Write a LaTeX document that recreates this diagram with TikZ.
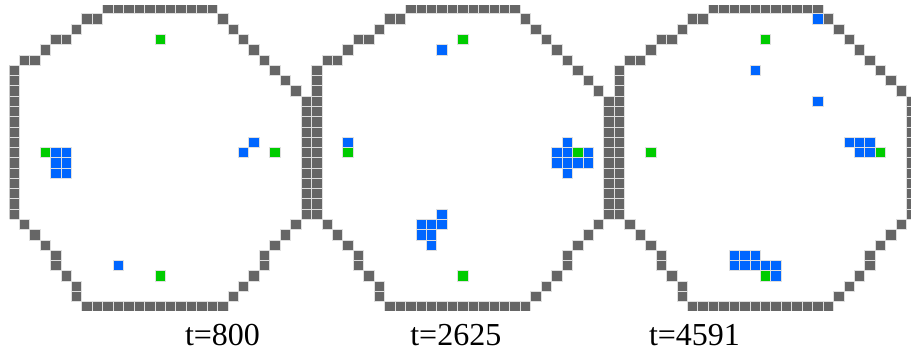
\documentclass[tikz,border=0pt]{standalone}
\usepackage{fontspec}
\setmainfont{Liberation Serif}
\definecolor{wallgray}{RGB}{102,102,102}
\definecolor{dropblue}{RGB}{0,102,255}
\definecolor{seedgreen}{RGB}{0,204,0}
\tikzset{
  wall/.style={fill=wallgray,draw=gray!25,line width=0.5pt},
  drop/.style={fill=dropblue,draw=gray!25,line width=0.5pt},
  seed/.style={fill=seedgreen,draw=gray!25,line width=0.5pt},
  tlabel/.style={anchor=base,font=\fontsize{16}{18}\selectfont}
}
% one lattice site, column #1, row #2
\newcommand{\site}[3]{\path[#3] ({8.86+(#1)*10.44},{3.7+(#2)*10.275}) rectangle +(10.44,10.275);}
\begin{document}
\begin{tikzpicture}[x=0.5pt,y=-0.5pt]
\useasboundingbox (0,0) rectangle (911,354);
\begin{scope}
\clip (9.5,5.5) rectangle (911,310);
% the three octagonal walls
\foreach \o in {0,29,58}{
  \foreach \c in {9,...,19} {\site{\o+\c}{0}{wall}}
  \foreach \c in {7,...,20} {\site{\o+\c}{29}{wall}}
  \foreach \r in {6,...,20} {\site{\o}{\r}{wall}}
  \foreach \r in {9,...,20} {\site{\o+28}{\r}{wall}}
  \foreach \c/\r in {7/1,8/1,20/1,6/2,21/2,4/3,5/3,22/3,3/4,23/4,1/5,2/5,24/5,
      25/6,26/7,27/8,1/21,27/21,2/22,26/22,3/23,25/23,4/24,24/24,4/25,24/25,
      5/26,23/26,6/27,22/27,6/28,21/28} {\site{\o+\c}{\r}{wall}}
  % seeds
  \foreach \c/\r in {14/3,3/14,25/14,14/26} {\site{\o+\c}{\r}{seed}}
}
% drops
\foreach \c/\r in {4/14,5/14,4/15,5/15,4/16,5/16,22/14,23/13,10/25,
    41/4,32/13,53/13,52/14,53/14,55/14,52/15,53/15,54/15,55/15,53/16,
    41/20,39/21,40/21,41/21,39/22,40/22,40/23,
    77/1,71/6,77/9,80/13,81/13,82/13,81/14,82/14,
    69/24,70/24,71/24,69/25,70/25,71/25,72/25,73/25,73/26} {\site{\c}{\r}{drop}}
\end{scope}
\node[tlabel] (t1) at (222.5,345) {t=800};
\node[tlabel] (t2) at (455.8,345) {t=2625};
\node[tlabel] (t3) at (694.5,345) {t=4591};
\end{tikzpicture}
\end{document}
